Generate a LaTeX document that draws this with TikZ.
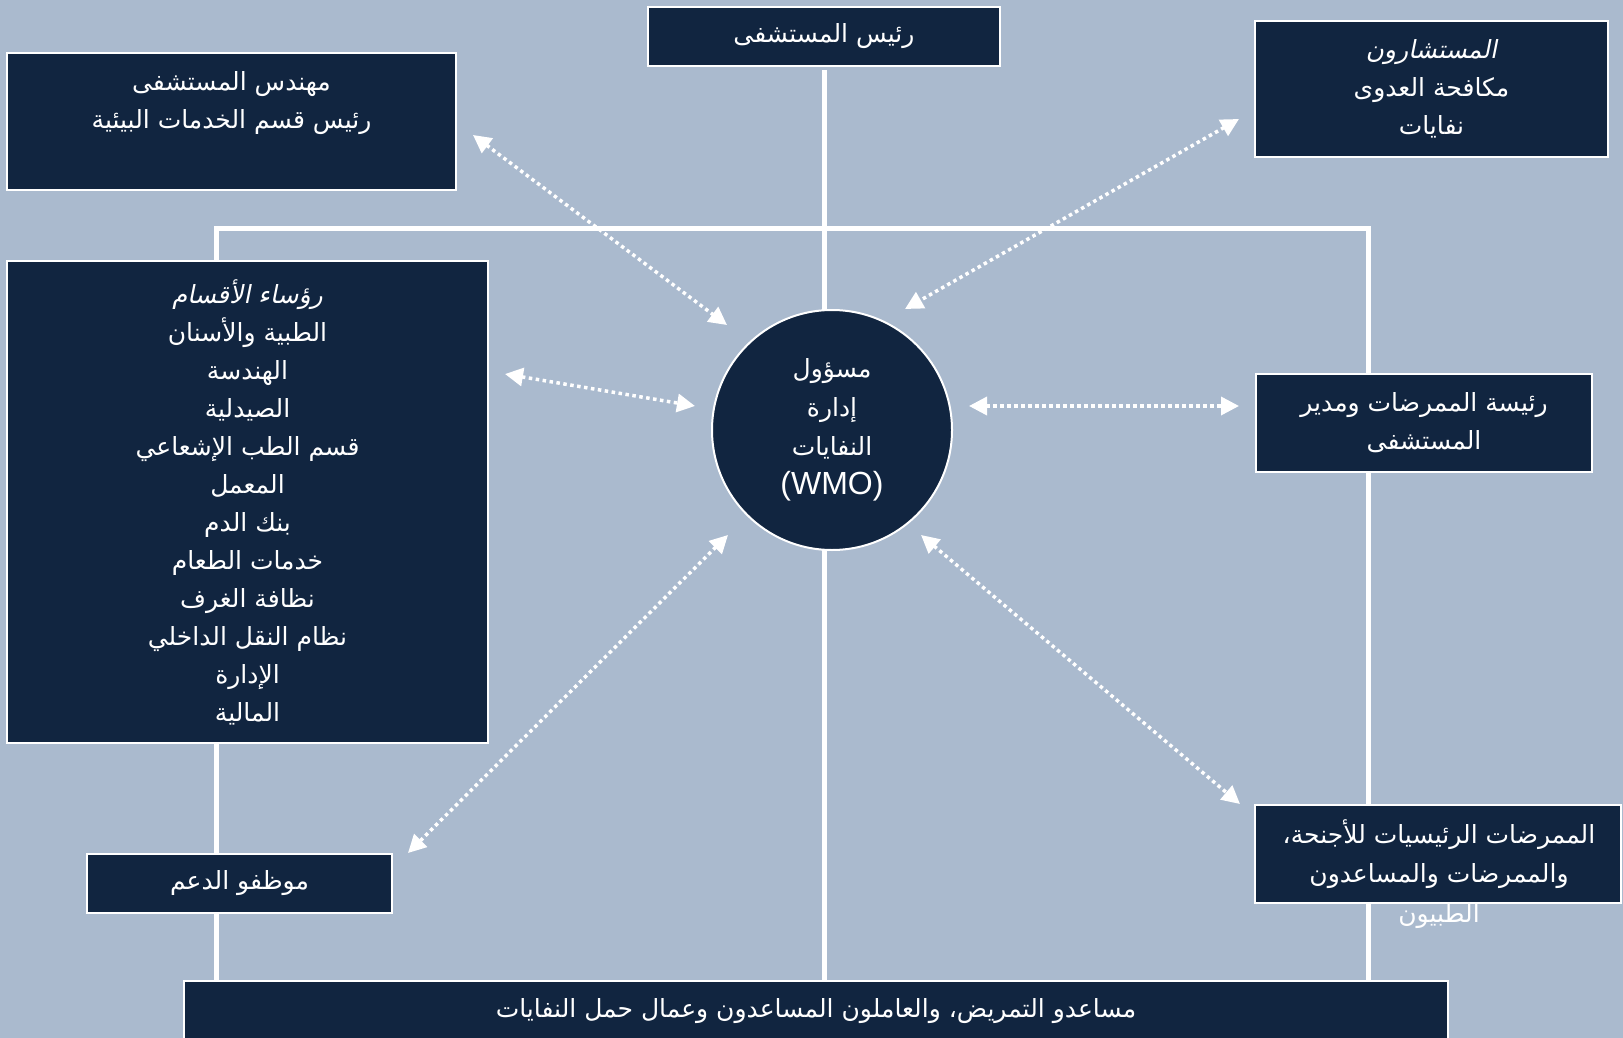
\documentclass[tikz,border=0pt]{standalone}
\usepackage{fontspec}
\usetikzlibrary{arrows.meta}
\TeXXeTstate=1
\newfontfamily\arfont[Script=Arabic]{DejaVu Sans}
\newfontfamily\arit[Script=Arabic,FakeSlant=0.2]{DejaVu Sans}
\newfontfamily\latfont{Liberation Sans}
\newcommand\arl[1]{\beginR #1\endR}
\definecolor{bgc}{HTML}{AABACE}
\definecolor{navy}{HTML}{112540}
\tikzset{
  box/.style={draw=white, line width=2pt, fill=navy, inner sep=0pt},
  txt/.style={text=white, align=center, font=\arfont\fontsize{25}{38}\selectfont},
  trunk/.style={draw=white, line width=5pt},
  link/.style={draw=white, line width=3.5pt, dash pattern=on 3.5pt off 3.5pt,
    {Triangle[length=18pt,width=18pt]}-{Triangle[length=18pt,width=18pt]}},
}
\begin{document}
\begin{tikzpicture}[x=1pt,y=-1pt]
\useasboundingbox (0,0) rectangle (1623,1038);
\fill[bgc] (0,0) rectangle (1623,1038);
% junction coordinates
\coordinate (jl) at (216,228);
\coordinate (jr) at (1368,228);
\coordinate (jlb) at (216,981);
\coordinate (jrb) at (1368,981);
\coordinate (jcb) at (824,981);
\coordinate (jct) at (824,70);
% trunk lines
\draw[trunk] (jct) -- (jcb);
\draw[trunk, line cap=rect] (jl) -- (jr);
\draw[trunk] (jl) -- (jlb);
\draw[trunk] (jr) -- (jrb);
% boxes
\node[box,txt,minimum width=352pt,minimum height=59pt] (chief) at (824,36.5) {\arl{رئيس المستشفى}};
\node[box,minimum width=449pt,minimum height=137pt] (eng) at (231.5,121.5) {};
\node[txt] (engtxt) at (231.5,103) {\arl{مهندس المستشفى}\\\arl{رئيس قسم الخدمات البيئية}};
\node[box,txt,minimum width=353pt,minimum height=136pt] (cons) at (1431.5,89) {{\arit\arl{المستشارون}}\\\arl{مكافحة العدوى}\\\arl{نفايات}};
\node[box,txt,minimum width=481pt,minimum height=482pt] (heads) at (247.5,502) {{\arit\arl{رؤساء الأقسام}}\\\arl{الطبية والأسنان}\\\arl{الهندسة}\\\arl{الصيدلية}\\\arl{قسم الطب الإشعاعي}\\\arl{المعمل}\\\arl{بنك الدم}\\\arl{خدمات الطعام}\\\arl{نظافة الغرف}\\\arl{نظام النقل الداخلي}\\\arl{الإدارة}\\\arl{المالية}};
\node[box,txt,minimum width=336pt,minimum height=98pt] (matron) at (1424,423) {\arl{رئيسة الممرضات ومدير}\\\arl{المستشفى}};
\node[box,txt,minimum width=305pt,minimum height=59pt] (support) at (239.5,883.5) {\arl{موظفو الدعم}};
\node[box,minimum width=366pt,minimum height=98pt] (nurses) at (1438,854) {};
\node[txt,font=\arfont\fontsize{25}{39.5}\selectfont] (nursestxt) at (1439,874) {\arl{الممرضات الرئيسيات للأجنحة،}\\\arl{والممرضات والمساعدون}\\\arl{الطبيون}};
\node[box,txt,minimum width=1264pt,minimum height=60pt] (aides) at (816,1011) {\arl{مساعدو التمريض، والعاملون المساعدون وعمال حمل النفايات}};
\node[box,txt,circle,minimum size=240pt,font=\arfont\fontsize{25}{39}\selectfont] (wmo) at (832,430) {\arl{مسؤول}\\\arl{إدارة}\\\arl{النفايات}\\{\latfont\fontsize{32}{39}\selectfont (WMO)}};
% dotted two-way links
\coordinate (a1s) at (473,135);  \coordinate (a1e) at (727,325);
\coordinate (a2s) at (1239,119); \coordinate (a2e) at (905,309);
\coordinate (a3s) at (505,374);  \coordinate (a3e) at (695,406);
\coordinate (a4s) at (969,406);  \coordinate (a4e) at (1239,406);
\coordinate (a5s) at (728,535);  \coordinate (a5e) at (408,853);
\coordinate (a6s) at (921,535);  \coordinate (a6e) at (1240,804);
\draw[link] (a1s) -- (a1e);
\draw[link] (a2s) -- (a2e);
\draw[link] (a3s) -- (a3e);
\draw[link] (a4s) -- (a4e);
\draw[link] (a5s) -- (a5e);
\draw[link] (a6s) -- (a6e);
\end{tikzpicture}
\end{document}
